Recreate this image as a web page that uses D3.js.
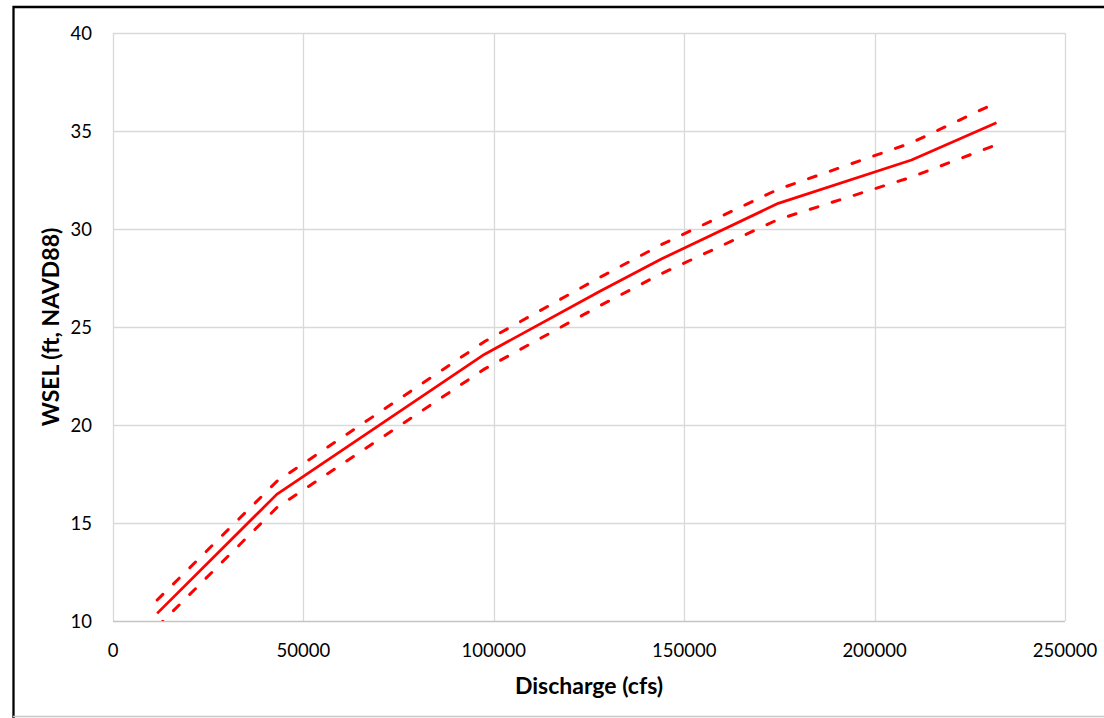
<!DOCTYPE html>
<html>
<head>
<meta charset="utf-8">
<script src="https://cdn.jsdelivr.net/npm/d3@7"></script>
<style>
  body { margin: 0; background: #fff; }
  svg { display: block; font-family: Lato, "Open Sans", sans-serif; }
</style>
</head>
<body>
<div id="chart"></div>
<script>
// rating curve
var discharge = [11600, 43000, 97500, 128000, 144000, 174700, 209700, 232000];
var wselMid   = [10.39, 16.46, 23.6, 26.84, 28.47, 31.31, 33.52, 35.42];
var wselUpper = [11.07, 17.12, 24.25, 27.55, 29.2, 32.03, 34.4, 36.45];
var wselLower = [9.7, 15.78, 22.85, 26.1, 27.72, 30.49, 32.65, 34.3];

var xTicks = [0, 50000, 100000, 150000, 200000, 250000];
var yTicks = [10, 15, 20, 25, 30, 35, 40];

var width = 1104, height = 718;
// note: "top" is taken by window.top, so plot edges get their own names
var plotLeft = 113, plotRight = 1065, plotTop = 33, plotBottom = 621;

var svg = d3.select("#chart").append("svg")
    .attr("width", width)
    .attr("height", height);

// outer frame
svg.append("rect")
    .attr("x", 0).attr("y", 0)
    .attr("width", width).attr("height", height)
    .attr("fill", "#fff");
svg.append("path")
    .attr("d", "M13.5,718 V7 H1106")
    .attr("fill", "none")
    .attr("stroke", "#000")
    .attr("stroke-width", 2.3);
svg.append("line")
    .attr("x1", 13).attr("x2", width)
    .attr("y1", 716.5).attr("y2", 716.5)
    .attr("stroke", "#c8c8c8")
    .attr("stroke-width", 1.5);

var x = d3.scaleLinear().domain([0, 250000]).range([plotLeft, plotRight]);
var y = d3.scaleLinear().domain([10, 40]).range([plotBottom, plotTop]);

// gridlines
svg.selectAll("line.vgrid")
    .data(xTicks)
    .enter().append("line")
      .attr("class", "vgrid")
      .attr("x1", function(d) { return Math.round(x(d)) + 0.5; })
      .attr("x2", function(d) { return Math.round(x(d)) + 0.5; })
      .attr("y1", plotTop).attr("y2", plotBottom)
      .attr("stroke", "#d9d9d9")
      .attr("stroke-width", 1.3);

svg.selectAll("line.hgrid")
    .data(yTicks)
    .enter().append("line")
      .attr("class", "hgrid")
      .attr("x1", plotLeft).attr("x2", plotRight)
      .attr("y1", function(d) { return Math.round(y(d)) + 0.5; })
      .attr("y2", function(d) { return Math.round(y(d)) + 0.5; })
      .attr("stroke", function(d) { return d == 10 ? "#c4c4c4" : "#d9d9d9"; })
      .attr("stroke-width", 1.3);

// tick labels
svg.selectAll("text.xlab")
    .data(xTicks)
    .enter().append("text")
      .attr("class", "xlab")
      .attr("x", function(d) { return x(d); })
      .attr("y", 657)
      .attr("text-anchor", "middle")
      .attr("font-size", 18.5)
      .attr("fill", "#000")
      .text(function(d) { return d; });

svg.selectAll("text.ylab")
    .data(yTicks)
    .enter().append("text")
      .attr("class", "ylab")
      .attr("x", 92)
      .attr("y", function(d) { return y(d) + 6.5; })
      .attr("text-anchor", "end")
      .attr("font-size", 18.5)
      .attr("fill", "#000")
      .text(function(d) { return d; });

// axis titles
svg.append("text")
    .attr("x", (plotLeft + plotRight) / 2)
    .attr("y", 694)
    .attr("text-anchor", "middle")
    .attr("font-size", 23)
    .attr("font-weight", "bold")
    .text("Discharge (cfs)");

svg.append("text")
    .attr("transform", "translate(59," + (plotTop + plotBottom) / 2 + ") rotate(-90)")
    .attr("text-anchor", "middle")
    .attr("font-size", 23)
    .attr("font-weight", "bold")
    .text("WSEL (ft, NAVD88)");

// lines, clipped to the plot area
svg.append("clipPath").attr("id", "plotclip")
  .append("rect")
    .attr("x", plotLeft).attr("y", plotTop)
    .attr("width", plotRight - plotLeft).attr("height", plotBottom - plotTop);

var plot = svg.append("g").attr("clip-path", "url(#plotclip)");

function curve(vals) {
  return d3.line()
    .x(function(d, i) { return x(discharge[i]); })
    .y(function(d) { return y(d); })(vals);
}

plot.append("path")
    .attr("d", curve(wselUpper))
    .attr("fill", "none")
    .attr("stroke", "#ff0000")
    .attr("stroke-width", 3)
    .attr("stroke-linecap", "round")
    .attr("stroke-dasharray", "8,15");

plot.append("path")
    .attr("d", curve(wselLower))
    .attr("fill", "none")
    .attr("stroke", "#ff0000")
    .attr("stroke-width", 3)
    .attr("stroke-linecap", "round")
    .attr("stroke-dasharray", "8,15");

plot.append("path")
    .attr("d", curve(wselMid))
    .attr("fill", "none")
    .attr("stroke", "#ff0000")
    .attr("stroke-width", 2.75)
    .attr("stroke-linejoin", "round");
</script>
</body>
</html>
